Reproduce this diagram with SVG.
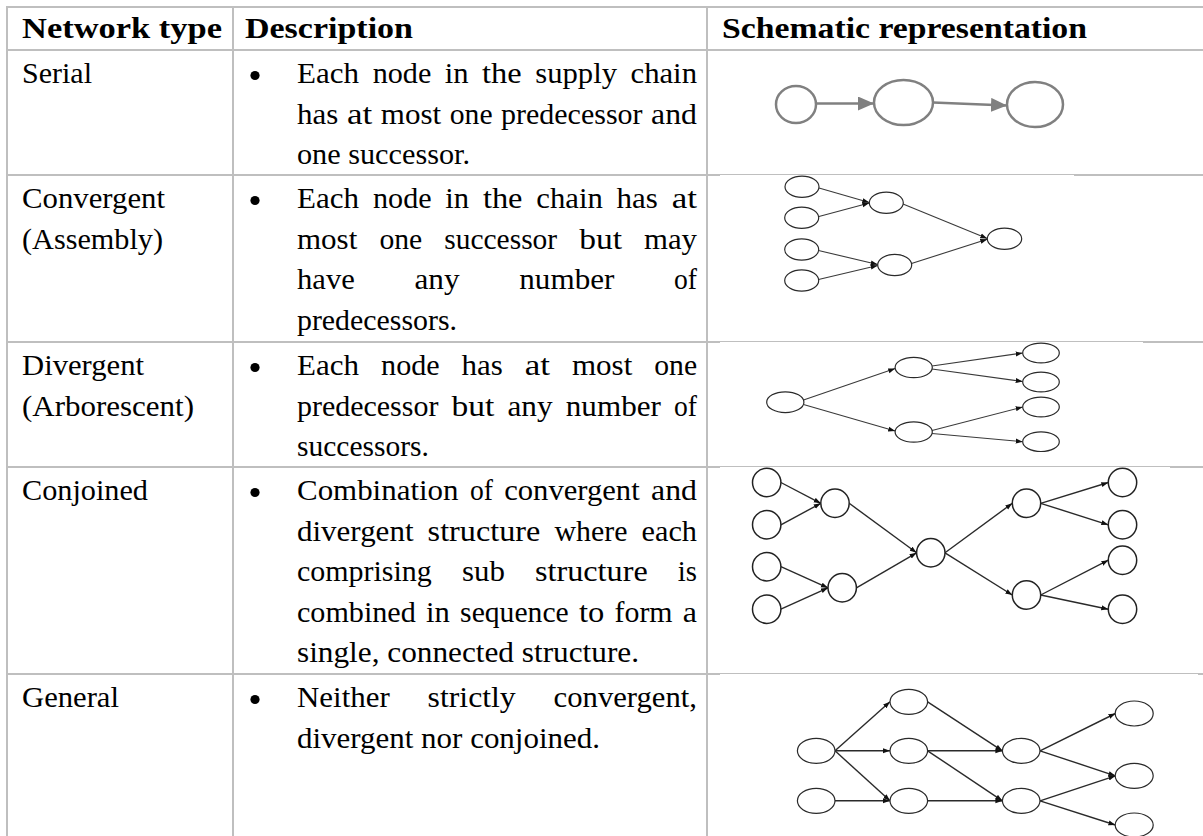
<svg xmlns="http://www.w3.org/2000/svg" width="1203" height="836" viewBox="0 0 1203 836">
  <style>
    .grid { stroke: #bfbfbf; stroke-width: 2; fill: none; }
    .pad { fill: #ffffff; }
    .t { font-size: 29px; fill: #000; }
    .h { font-size: 29px; font-weight: bold; fill: #000; }
    .bul { fill: #000; }
    .sn { fill: #fff; stroke: #808080; stroke-width: 2.5; }
    .se { stroke: #808080; stroke-width: 2.5; fill: none; }
    .n { fill: #fff; stroke: #2a2a2a; stroke-width: 1.2; }
    .e { stroke: #3a3a3a; stroke-width: 1.1; fill: none; }
    .nc { fill: #fff; stroke: #222; stroke-width: 1.5; }
    .ec { stroke: #2a2a2a; stroke-width: 1.4; fill: none; }
  </style>
  <defs>
    <marker id="arrGray" markerUnits="userSpaceOnUse" markerWidth="16" markerHeight="14" refX="16" refY="7" orient="auto">
      <path d="M0,0 L16,7 L0,14 z" fill="#808080"/>
    </marker>
    <marker id="arrSmall" markerUnits="userSpaceOnUse" markerWidth="7" markerHeight="6" refX="7" refY="3" orient="auto">
      <path d="M0,0.5 L7,3 L0,5.5 z" fill="#111"/>
    </marker>
  </defs>

  <rect width="1203" height="836" fill="#ffffff"/>

  <!-- table rules -->
  <g id="table-grid" class="grid">
    <line x1="6" y1="7" x2="1203" y2="7"/>
    <line x1="6" y1="50" x2="1203" y2="50"/>
    <line x1="6" y1="175" x2="1203" y2="175"/>
    <line x1="6" y1="342" x2="1203" y2="342"/>
    <line x1="6" y1="467" x2="1203" y2="467"/>
    <line x1="6" y1="674" x2="1203" y2="674"/>
    <line x1="7" y1="6" x2="7" y2="836"/>
    <line x1="233" y1="6" x2="233" y2="836"/>
    <line x1="707" y1="6" x2="707" y2="836"/>
  </g>
  <!-- white canvases of the pasted schematics, trimming the rules they sit on -->
  <g id="figure-canvases" class="pad">
    <rect x="720" y="175" width="354" height="1.2"/>
    <rect x="720" y="342" width="423" height="1.2"/>
    <rect x="720" y="467" width="450" height="1.2"/>
    <rect x="720" y="674" width="478" height="1.2"/>
  </g>

  <!-- all table text in one serif face -->
  <g id="table-text" font-family="Liberation Serif, serif">
  <!-- header row -->
  <g id="header">
    <text class="h" x="22" y="38" textLength="200" lengthAdjust="spacingAndGlyphs">Network type</text>
    <text class="h" x="245" y="38" textLength="168" lengthAdjust="spacingAndGlyphs">Description</text>
    <text class="h" x="722" y="38" textLength="365" lengthAdjust="spacingAndGlyphs">Schematic representation</text>
  </g>

  <!-- row: serial -->
  <g id="row-serial">
    <text class="t" x="22" y="83" textLength="70" lengthAdjust="spacingAndGlyphs">Serial</text>
    <circle class="bul" cx="255" cy="75.5" r="4.6"/>
    <text class="t" y="83"><tspan x="297" textLength="62" lengthAdjust="spacingAndGlyphs">Each</tspan><tspan x="372.7" textLength="58.6" lengthAdjust="spacingAndGlyphs">node</tspan><tspan x="444.8" textLength="23.8" lengthAdjust="spacingAndGlyphs">in</tspan><tspan x="482.1" textLength="39.6" lengthAdjust="spacingAndGlyphs">the</tspan><tspan x="535.3" textLength="81.7" lengthAdjust="spacingAndGlyphs">supply</tspan><tspan x="630.5" textLength="66.5" lengthAdjust="spacingAndGlyphs">chain</tspan></text>
    <text class="t" y="123.5"><tspan x="297" textLength="41.3" lengthAdjust="spacingAndGlyphs">has</tspan><tspan x="346.9" textLength="25.3" lengthAdjust="spacingAndGlyphs">at</tspan><tspan x="380.8" textLength="60.3" lengthAdjust="spacingAndGlyphs">most</tspan><tspan x="449.8" textLength="42.8" lengthAdjust="spacingAndGlyphs">one</tspan><tspan x="501.1" textLength="141.4" lengthAdjust="spacingAndGlyphs">predecessor</tspan><tspan x="651.1" textLength="45.9" lengthAdjust="spacingAndGlyphs">and</tspan></text>
    <text class="t" x="297" y="164" textLength="173" lengthAdjust="spacingAndGlyphs">one successor.</text>
  </g>

  <!-- row: convergent -->
  <g id="row-convergent">
    <text class="t" x="22" y="208" textLength="143" lengthAdjust="spacingAndGlyphs">Convergent</text>
    <text class="t" x="22" y="248.5" textLength="141" lengthAdjust="spacingAndGlyphs">(Assembly)</text>
    <circle class="bul" cx="255" cy="200.5" r="4.6"/>
    <text class="t" y="208"><tspan x="297" textLength="62" lengthAdjust="spacingAndGlyphs">Each</tspan><tspan x="373" textLength="58.6" lengthAdjust="spacingAndGlyphs">node</tspan><tspan x="445.3" textLength="23.8" lengthAdjust="spacingAndGlyphs">in</tspan><tspan x="482.9" textLength="39.6" lengthAdjust="spacingAndGlyphs">the</tspan><tspan x="536.3" textLength="66.5" lengthAdjust="spacingAndGlyphs">chain</tspan><tspan x="616.6" textLength="41.3" lengthAdjust="spacingAndGlyphs">has</tspan><tspan x="671.7" textLength="25.3" lengthAdjust="spacingAndGlyphs">at</tspan></text>
    <text class="t" y="248.5"><tspan x="297" textLength="60.3" lengthAdjust="spacingAndGlyphs">most</tspan><tspan x="379.4" textLength="42.8" lengthAdjust="spacingAndGlyphs">one</tspan><tspan x="444.2" textLength="113" lengthAdjust="spacingAndGlyphs">successor</tspan><tspan x="579.2" textLength="42.8" lengthAdjust="spacingAndGlyphs">but</tspan><tspan x="644" textLength="53" lengthAdjust="spacingAndGlyphs">may</tspan></text>
    <text class="t" y="289"><tspan x="297" textLength="57.8" lengthAdjust="spacingAndGlyphs">have</tspan><tspan x="414.5" textLength="45.1" lengthAdjust="spacingAndGlyphs">any</tspan><tspan x="519.3" textLength="95.1" lengthAdjust="spacingAndGlyphs">number</tspan><tspan x="674" textLength="23" lengthAdjust="spacingAndGlyphs">of</tspan></text>
    <text class="t" x="297" y="329.5" textLength="160" lengthAdjust="spacingAndGlyphs">predecessors.</text>
  </g>

  <!-- row: divergent -->
  <g id="row-divergent">
    <text class="t" x="22" y="375" textLength="122" lengthAdjust="spacingAndGlyphs">Divergent</text>
    <text class="t" x="22" y="415.5" textLength="172" lengthAdjust="spacingAndGlyphs">(Arborescent)</text>
    <circle class="bul" cx="255" cy="367.5" r="4.6"/>
    <text class="t" y="375"><tspan x="297" textLength="62" lengthAdjust="spacingAndGlyphs">Each</tspan><tspan x="381.1" textLength="58.6" lengthAdjust="spacingAndGlyphs">node</tspan><tspan x="461.6" textLength="41.3" lengthAdjust="spacingAndGlyphs">has</tspan><tspan x="524.8" textLength="25.3" lengthAdjust="spacingAndGlyphs">at</tspan><tspan x="572" textLength="60.3" lengthAdjust="spacingAndGlyphs">most</tspan><tspan x="654.3" textLength="42.8" lengthAdjust="spacingAndGlyphs">one</tspan></text>
    <text class="t" y="415.5"><tspan x="297" textLength="141.4" lengthAdjust="spacingAndGlyphs">predecessor</tspan><tspan x="451.6" textLength="42.8" lengthAdjust="spacingAndGlyphs">but</tspan><tspan x="507.5" textLength="45.1" lengthAdjust="spacingAndGlyphs">any</tspan><tspan x="565.8" textLength="95.1" lengthAdjust="spacingAndGlyphs">number</tspan><tspan x="674" textLength="23" lengthAdjust="spacingAndGlyphs">of</tspan></text>
    <text class="t" x="297" y="456" textLength="132" lengthAdjust="spacingAndGlyphs">successors.</text>
  </g>

  <!-- row: conjoined -->
  <g id="row-conjoined">
    <text class="t" x="22" y="500" textLength="126" lengthAdjust="spacingAndGlyphs">Conjoined</text>
    <circle class="bul" cx="255" cy="492.5" r="4.6"/>
    <text class="t" y="500"><tspan x="297" textLength="161.5" lengthAdjust="spacingAndGlyphs">Combination</tspan><tspan x="469.9" textLength="23" lengthAdjust="spacingAndGlyphs">of</tspan><tspan x="504.2" textLength="135.5" lengthAdjust="spacingAndGlyphs">convergent</tspan><tspan x="651.1" textLength="45.9" lengthAdjust="spacingAndGlyphs">and</tspan></text>
    <text class="t" y="540.5"><tspan x="297" textLength="116.5" lengthAdjust="spacingAndGlyphs">divergent</tspan><tspan x="427.6" textLength="112.7" lengthAdjust="spacingAndGlyphs">structure</tspan><tspan x="554.5" textLength="72.9" lengthAdjust="spacingAndGlyphs">where</tspan><tspan x="641.6" textLength="55.4" lengthAdjust="spacingAndGlyphs">each</tspan></text>
    <text class="t" y="581"><tspan x="297" textLength="134.8" lengthAdjust="spacingAndGlyphs">comprising</tspan><tspan x="462" textLength="42.9" lengthAdjust="spacingAndGlyphs">sub</tspan><tspan x="535" textLength="112.7" lengthAdjust="spacingAndGlyphs">structure</tspan><tspan x="677.8" textLength="19.2" lengthAdjust="spacingAndGlyphs">is</tspan></text>
    <text class="t" y="621.5"><tspan x="297" textLength="118.8" lengthAdjust="spacingAndGlyphs">combined</tspan><tspan x="426" textLength="23.8" lengthAdjust="spacingAndGlyphs">in</tspan><tspan x="460.1" textLength="108.6" lengthAdjust="spacingAndGlyphs">sequence</tspan><tspan x="579" textLength="25.3" lengthAdjust="spacingAndGlyphs">to</tspan><tspan x="614.6" textLength="57.9" lengthAdjust="spacingAndGlyphs">form</tspan><tspan x="682.8" textLength="14.2" lengthAdjust="spacingAndGlyphs">a</tspan></text>
    <text class="t" x="297" y="662" textLength="342" lengthAdjust="spacingAndGlyphs">single, connected structure.</text>
  </g>

  <!-- row: general -->
  <g id="row-general">
    <text class="t" x="22" y="707" textLength="97" lengthAdjust="spacingAndGlyphs">General</text>
    <circle class="bul" cx="255" cy="699.5" r="4.6"/>
    <text class="t" y="707"><tspan x="297" textLength="92.7" lengthAdjust="spacingAndGlyphs">Neither</tspan><tspan x="427.6" textLength="88.1" lengthAdjust="spacingAndGlyphs">strictly</tspan><tspan x="553.6" textLength="143.4" lengthAdjust="spacingAndGlyphs">convergent,</tspan></text>
    <text class="t" x="297" y="747.5" textLength="303" lengthAdjust="spacingAndGlyphs">divergent nor conjoined.</text>
  </g>
  </g>

  <!-- ===== serial chain ===== -->
  <g id="serial-edges">
    <line class="se" x1="816" y1="103.5" x2="874" y2="103.5" marker-end="url(#arrGray)"/>
    <line class="se" x1="933" y1="102.5" x2="1007" y2="105.5" marker-end="url(#arrGray)"/>
  </g>
  <g id="serial-n1"><ellipse class="sn" cx="796" cy="104.5" rx="20" ry="18.5"/></g>
  <g id="serial-n2"><ellipse class="sn" cx="903.5" cy="102.5" rx="29.5" ry="22.5"/></g>
  <g id="serial-n3"><ellipse class="sn" cx="1035" cy="104.5" rx="28" ry="22.5"/></g>

  <!-- ===== convergent (assembly) ===== -->
  <g id="convergent-edges" class="e">
    <line x1="819" y1="188" x2="869.3" y2="202.5" marker-end="url(#arrSmall)"/>
    <line x1="818" y1="216.8" x2="869.3" y2="203" marker-end="url(#arrSmall)"/>
    <line x1="818.5" y1="250.5" x2="877.7" y2="264.5" marker-end="url(#arrSmall)"/>
    <line x1="818.5" y1="279.5" x2="877.7" y2="265.5" marker-end="url(#arrSmall)"/>
    <line x1="903" y1="204" x2="987.3" y2="238.5" marker-end="url(#arrSmall)"/>
    <line x1="911.5" y1="263.5" x2="987.3" y2="239.3" marker-end="url(#arrSmall)"/>
  </g>
  <g id="conv-a1"><ellipse class="n" cx="802" cy="186.7" rx="17" ry="10.6"/></g>
  <g id="conv-a2"><ellipse class="n" cx="801.7" cy="217.8" rx="17" ry="10.6"/></g>
  <g id="conv-a3"><ellipse class="n" cx="801.7" cy="249.5" rx="17" ry="10.6"/></g>
  <g id="conv-a4"><ellipse class="n" cx="801.7" cy="280.5" rx="17" ry="10.6"/></g>
  <g id="conv-b1"><ellipse class="n" cx="886.3" cy="202.8" rx="17" ry="10.6"/></g>
  <g id="conv-b2"><ellipse class="n" cx="894.7" cy="265" rx="17" ry="10.6"/></g>
  <g id="conv-c"><ellipse class="n" cx="1004.5" cy="238.8" rx="17.2" ry="10.6"/></g>

  <!-- ===== divergent (arborescent) ===== -->
  <g id="divergent-edges" class="e">
    <line x1="803.5" y1="400" x2="895.2" y2="368.5" marker-end="url(#arrSmall)"/>
    <line x1="803.5" y1="404.5" x2="895.2" y2="431" marker-end="url(#arrSmall)"/>
    <line x1="932" y1="366" x2="1022.7" y2="353" marker-end="url(#arrSmall)"/>
    <line x1="932" y1="369" x2="1022.7" y2="381.5" marker-end="url(#arrSmall)"/>
    <line x1="932" y1="430.5" x2="1022.7" y2="407" marker-end="url(#arrSmall)"/>
    <line x1="932" y1="433.5" x2="1022.7" y2="441.7" marker-end="url(#arrSmall)"/>
  </g>
  <g id="div-root"><ellipse class="n" cx="785.3" cy="402.2" rx="18.6" ry="10.4"/></g>
  <g id="div-m1"><ellipse class="n" cx="913.7" cy="367.5" rx="18.6" ry="10.2"/></g>
  <g id="div-m2"><ellipse class="n" cx="913.7" cy="432" rx="18.6" ry="10.2"/></g>
  <g id="div-l1"><ellipse class="n" cx="1041" cy="353" rx="18.3" ry="9.8"/></g>
  <g id="div-l2"><ellipse class="n" cx="1041" cy="382" rx="18.3" ry="9.8"/></g>
  <g id="div-l3"><ellipse class="n" cx="1041" cy="407" rx="18.3" ry="9.8"/></g>
  <g id="div-l4"><ellipse class="n" cx="1041" cy="441.7" rx="18.3" ry="9.8"/></g>

  <!-- ===== conjoined ===== -->
  <g id="conjoined-edges" class="ec">
    <line x1="780.9" y1="482.5" x2="820.8" y2="503.3" marker-end="url(#arrSmall)"/>
    <line x1="780.9" y1="524.8" x2="820.8" y2="503.3" marker-end="url(#arrSmall)"/>
    <line x1="780.9" y1="566.7" x2="828" y2="587.8" marker-end="url(#arrSmall)"/>
    <line x1="780.9" y1="609.2" x2="828" y2="587.8" marker-end="url(#arrSmall)"/>
    <line x1="849.2" y1="503.3" x2="916.6" y2="552.8" marker-end="url(#arrSmall)"/>
    <line x1="856.4" y1="587.8" x2="916.6" y2="552.8" marker-end="url(#arrSmall)"/>
    <line x1="945" y1="552.8" x2="1012.3" y2="503.3" marker-end="url(#arrSmall)"/>
    <line x1="945" y1="552.8" x2="1012.3" y2="595" marker-end="url(#arrSmall)"/>
    <line x1="1040.7" y1="503.3" x2="1108.3" y2="482.5" marker-end="url(#arrSmall)"/>
    <line x1="1040.7" y1="503.3" x2="1108.3" y2="524.8" marker-end="url(#arrSmall)"/>
    <line x1="1040.7" y1="595" x2="1108.3" y2="560.2" marker-end="url(#arrSmall)"/>
    <line x1="1040.7" y1="595" x2="1108.3" y2="609.2" marker-end="url(#arrSmall)"/>
  </g>
  <g id="conj-p1"><circle class="nc" cx="766.7" cy="482.5" r="14.2"/></g>
  <g id="conj-p2"><circle class="nc" cx="766.7" cy="524.8" r="14.2"/></g>
  <g id="conj-p3"><circle class="nc" cx="766.7" cy="566.7" r="14.2"/></g>
  <g id="conj-p4"><circle class="nc" cx="766.7" cy="609.2" r="14.2"/></g>
  <g id="conj-q1"><circle class="nc" cx="835" cy="503.3" r="14.2"/></g>
  <g id="conj-q2"><circle class="nc" cx="842.2" cy="587.8" r="14.2"/></g>
  <g id="conj-hub"><circle class="nc" cx="930.8" cy="552.8" r="14.2"/></g>
  <g id="conj-s1"><circle class="nc" cx="1026.5" cy="503.3" r="14.2"/></g>
  <g id="conj-s2"><circle class="nc" cx="1026.5" cy="595" r="14.2"/></g>
  <g id="conj-t1"><circle class="nc" cx="1122.5" cy="482.5" r="14.2"/></g>
  <g id="conj-t2"><circle class="nc" cx="1122.5" cy="524.8" r="14.2"/></g>
  <g id="conj-t3"><circle class="nc" cx="1122.5" cy="560.2" r="14.2"/></g>
  <g id="conj-t4"><circle class="nc" cx="1122.5" cy="609.2" r="14.2"/></g>

  <!-- ===== general ===== -->
  <g id="general-edges" class="ec">
    <line x1="835" y1="750.8" x2="890" y2="701.8" marker-end="url(#arrSmall)"/>
    <line x1="835" y1="750.8" x2="890" y2="750.8" marker-end="url(#arrSmall)"/>
    <line x1="835" y1="750.8" x2="890" y2="800.8" marker-end="url(#arrSmall)"/>
    <line x1="835" y1="800.8" x2="890" y2="800.8" marker-end="url(#arrSmall)"/>
    <line x1="927.6" y1="701.8" x2="1002.4" y2="750.8" marker-end="url(#arrSmall)"/>
    <line x1="927.6" y1="750.8" x2="1002.4" y2="750.8" marker-end="url(#arrSmall)"/>
    <line x1="927.6" y1="750.8" x2="1002.4" y2="800.8" marker-end="url(#arrSmall)"/>
    <line x1="927.6" y1="800.8" x2="1002.4" y2="800.8" marker-end="url(#arrSmall)"/>
    <line x1="1040" y1="750.8" x2="1115.4" y2="713.5" marker-end="url(#arrSmall)"/>
    <line x1="1040" y1="750.8" x2="1115.4" y2="775.8" marker-end="url(#arrSmall)"/>
    <line x1="1040" y1="800.8" x2="1115.4" y2="775.8" marker-end="url(#arrSmall)"/>
    <line x1="1040" y1="800.8" x2="1115.4" y2="825" marker-end="url(#arrSmall)"/>
  </g>
  <g id="gen-g0"><ellipse class="n" cx="816.2" cy="750.8" rx="18.8" ry="12.5"/></g>
  <g id="gen-g1"><ellipse class="n" cx="816.2" cy="800.8" rx="18.8" ry="12.5"/></g>
  <g id="gen-h1"><ellipse class="n" cx="908.8" cy="701.8" rx="18.8" ry="12.5"/></g>
  <g id="gen-h2"><ellipse class="n" cx="908.8" cy="750.8" rx="18.8" ry="12.5"/></g>
  <g id="gen-h3"><ellipse class="n" cx="908.8" cy="800.8" rx="18.8" ry="12.5"/></g>
  <g id="gen-k1"><ellipse class="n" cx="1021.2" cy="750.8" rx="18.8" ry="12.5"/></g>
  <g id="gen-k2"><ellipse class="n" cx="1021.2" cy="800.8" rx="18.8" ry="12.5"/></g>
  <g id="gen-o1"><ellipse class="n" cx="1134.2" cy="713.5" rx="19" ry="12.5"/></g>
  <g id="gen-o2"><ellipse class="n" cx="1134.2" cy="775.8" rx="19" ry="12.5"/></g>
  <g id="gen-o3"><ellipse class="n" cx="1134.2" cy="825" rx="19" ry="12"/></g>
</svg>
